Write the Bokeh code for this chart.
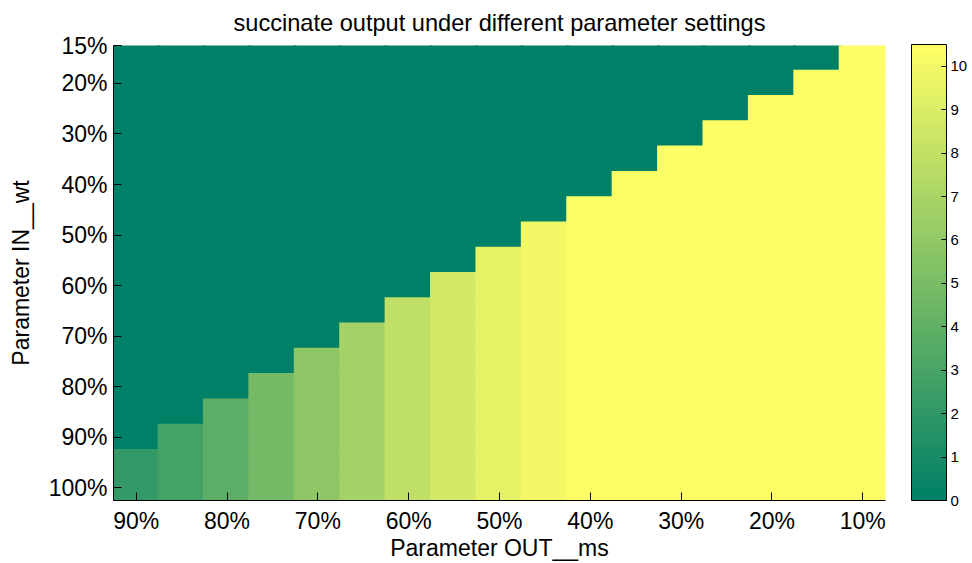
from bokeh.plotting import figure
from bokeh.models import (ColumnDataSource, LinearColorMapper, ColorBar,
                          FixedTicker, Range1d)
from bokeh.transform import transform
from bokeh.embed import file_html
from bokeh.resources import INLINE

# ---------------- data ----------------
out_labels = ["90%", "85%", "80%", "75%", "70%", "65%", "60%", "55%", "50%",
              "45%", "40%", "35%", "30%", "25%", "20%", "15%", "10%"]
in_labels = ["15%", "20%", "25%", "30%", "35%", "40%", "45%", "50%", "55%",
             "60%", "65%", "70%", "75%", "80%", "85%", "90%", "95%", "100%"]
# succinate output in the producing region, one value per OUT__ms column
col_values = [2.1, 2.85, 3.8, 4.8, 5.85, 6.8, 7.85, 8.65, 9.4, 9.95,
              10.4, 10.4, 10.4, 10.4, 10.4, 10.4, 10.4]
# first IN__wt row (counted from 15%) where output becomes non-zero, per column
first_row = [16, 15, 14, 13, 12, 11, 10, 9, 8, 7, 6, 5, 4, 3, 2, 1, 0]
x_tick_labels = ["90%", "80%", "70%", "60%", "50%", "40%", "30%", "20%", "10%"]
y_tick_labels = ["15%", "20%", "30%", "40%", "50%", "60%", "70%", "80%", "90%", "100%"]
cbar_ticks = [0, 1, 2, 3, 4, 5, 6, 7, 8, 9, 10]
v_max = 10.5

# ---------------- build table ----------------
xs, ys, vs = [], [], []
for j, lab in enumerate(out_labels):
    for i, rlab in enumerate(in_labels):
        xs.append(j)
        ys.append(i)
        vs.append(col_values[j] if i >= first_row[j] else 0.0)
src = ColumnDataSource(dict(x=xs, y=ys, v=vs))

# MATLAB "summer" colormap
palette = []
for k in range(256):
    t = k / 255
    palette.append("#%02x%02x%02x" % (round(255 * t), round(255 * (0.5 + 0.5 * t)), round(255 * 0.4)))
mapper = LinearColorMapper(palette=palette, low=0, high=v_max)

FONT = "Liberation Sans"
FS = "23px"

p = figure(width=972, height=563, output_backend="svg", toolbar_location=None,
           x_range=Range1d(-0.5, len(out_labels) - 0.5),
           y_range=Range1d(len(in_labels) - 0.5, -0.5),
           min_border_left=113, min_border_right=87, min_border_top=45,
           min_border_bottom=62, title="succinate output under different parameter settings")

# cells slightly enlarged so neighbouring cells overlap (no anti-alias seams)
p.rect(x="x", y="y", width=1.06, height=1.08, source=src,
       fill_color=transform("v", mapper), line_color=None)

p.title.align = "center"
p.title.vertical_align = "top"
p.title.text_font = FONT
p.title.text_font_size = "23.6px"
p.title.text_font_style = "normal"
p.title.text_color = "black"
p.title.standoff = 15

p.grid.visible = False
p.outline_line_color = None
p.background_fill_color = "white"

xt = [out_labels.index(l) for l in x_tick_labels]
p.xaxis.ticker = FixedTicker(ticks=xt)
p.xaxis.major_label_overrides = {out_labels.index(l): l for l in x_tick_labels}
yt = [-0.5] + [in_labels.index(l) for l in y_tick_labels[1:]]
p.yaxis.ticker = FixedTicker(ticks=yt)
p.yaxis.major_label_overrides = dict(zip(yt, y_tick_labels))

for ax in (p.xaxis[0], p.yaxis[0]):
    ax.major_tick_in = 8
    ax.major_tick_out = 0
    ax.minor_tick_line_color = None
    ax.axis_line_color = "black"
    ax.major_tick_line_color = "black"
    ax.major_label_text_font = FONT
    ax.major_label_text_font_size = FS
    ax.major_label_text_color = "black"
    ax.axis_label_text_font = FONT
    ax.axis_label_text_font_size = FS
    ax.axis_label_text_font_style = "normal"
    ax.axis_label_text_color = "black"

p.xaxis.axis_label = "Parameter OUT__ms"
p.xaxis.major_label_standoff = 7
p.xaxis.axis_label_standoff = -2
p.yaxis.axis_label = "Parameter IN__wt"
p.yaxis.major_label_standoff = 6
p.yaxis.axis_label_standoff = 12

cb = ColorBar(color_mapper=mapper, ticker=FixedTicker(ticks=cbar_ticks),
              width=35, height=456, location=(26, 0), padding=0, margin=0,
              bar_line_color="black", major_tick_in=5, major_tick_out=0,
              major_tick_line_color="black", label_standoff=4,
              major_label_text_font=FONT, major_label_text_font_size="15px",
              major_label_text_color="black",
              border_line_color=None, background_fill_color=None)
p.add_layout(cb, "right")

open("out.html", "w").write(file_html(p, INLINE))
